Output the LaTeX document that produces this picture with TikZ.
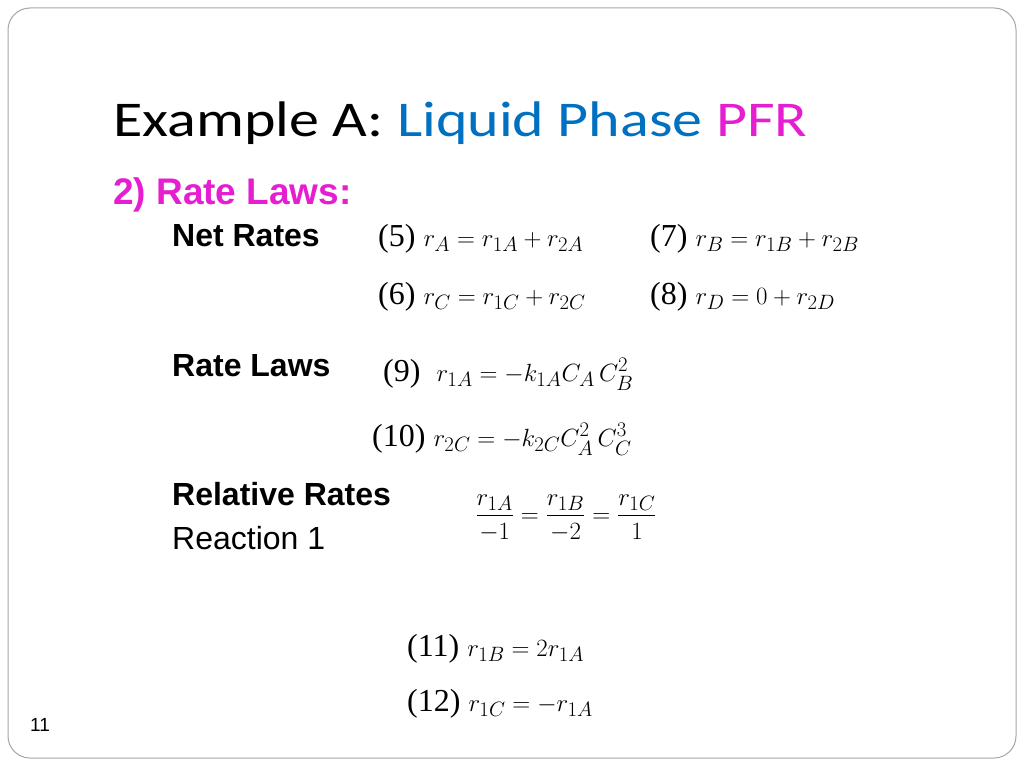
\documentclass[tikz,border=0pt]{standalone}
\usepackage{amsmath}
\usepackage{fontspec}
\setmainfont{Liberation Serif}
\newfontfamily\ttl{Carlito}
\newfontfamily\ar{Liberation Sans}
\definecolor{tblue}{RGB}{0,112,192}
\definecolor{tmag}{RGB}{230,30,210}
\begin{document}
\begin{tikzpicture}[x=1pt,y=-1pt,
  lbl/.style={anchor=base west,inner sep=0pt,font=\ar\fontsize{32}{36}\selectfont},
  blbl/.style={lbl,font=\ar\bfseries\fontsize{32}{36}\selectfont},
  eq/.style={anchor=base west,inner sep=0pt,font=\fontsize{32}{38}\selectfont}]
\useasboundingbox (0,0) rectangle (1024,768);
\fill[white] (0,0) rectangle (1024,768);
\draw[gray!70,line width=1pt,rounded corners=22] (8,8) rectangle (1016,758);
\node[anchor=base west,inner sep=0pt,xscale=1.2,font=\ttl\fontsize{50}{56}\selectfont] (title) at (113,136) {Example A: \textcolor{tblue}{Liquid Phase} \textcolor{tmag}{PFR}};
\node[lbl,font=\ar\bfseries\fontsize{37}{42}\selectfont,text=tmag] (rl) at (113,204) {2) Rate Laws:};
\node[blbl] (nr) at (172,246) {Net Rates};
\node[eq] (e5) at (378,246) {(5) $r_A=r_{1A}+r_{2A}$};
\node[eq] (e7) at (650,246) {(7) $r_B=r_{1B}+r_{2B}$};
\node[eq] (e6) at (378,304) {(6) $r_C=r_{1C}+r_{2C}$};
\node[eq] (e8) at (650,304) {(8) $r_D=0+r_{2D}$};
\node[blbl] (rl2) at (172,376) {Rate Laws};
\node[eq] (e9) at (383,381) {(9) \ $r_{1A}=-k_{1A}C_A\,C_B^2$};
\node[eq] (e10) at (372,446) {(10) $r_{2C}=-k_{2C}C_A^2\,C_C^3$};
\node[blbl] (rr) at (172,505) {Relative Rates};
\node[lbl] (r1) at (172,549) {Reaction 1};
\node[eq,anchor=center] (fr) at (566,518) {$\dfrac{r_{1A}}{-1}=\dfrac{r_{1B}}{-2}=\dfrac{r_{1C}}{1}$};
\node[eq] (e11) at (407,656) {(11) $r_{1B}=2r_{1A}$};
\node[eq] (e12) at (407,711) {(12) $r_{1C}=-r_{1A}$};
\node[anchor=base west,inner sep=0pt,font=\ar\fontsize{19}{22}\selectfont] (pg) at (30,731) {11};
\end{tikzpicture}
\end{document}
